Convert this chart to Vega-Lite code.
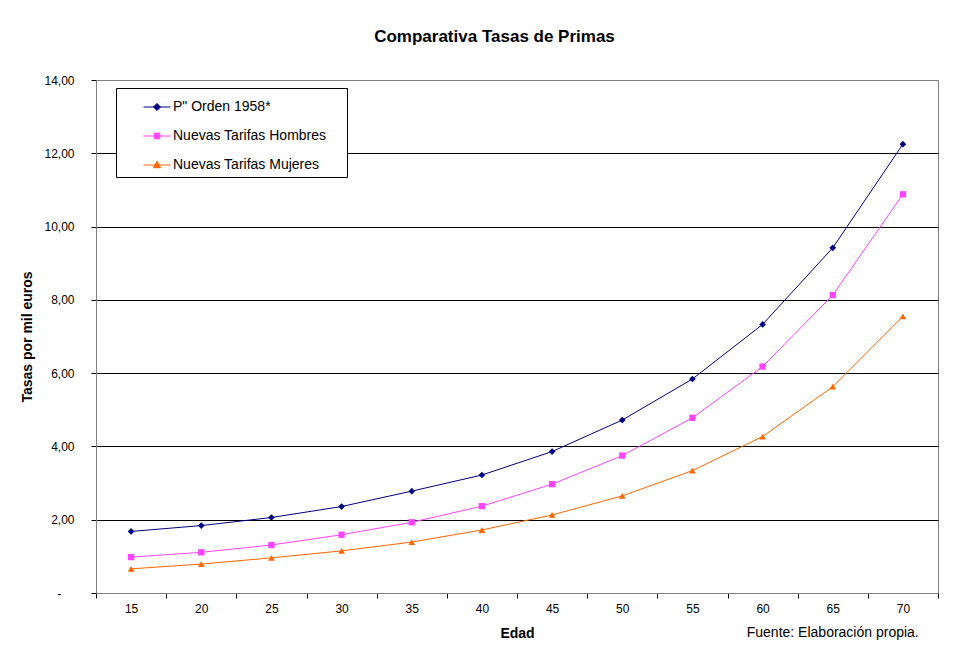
{
  "$schema": "https://vega.github.io/schema/vega-lite/v6.json",
  "width": 842,
  "height": 513,
  "autosize": {"type": "none"},
  "padding": {"left": 96, "top": 80, "right": 28, "bottom": 63},
  "background": "white",
  "title": {"text": "Comparativa Tasas de Primas", "fontSize": 17, "font": "Liberation Sans", "fontWeight": "bold", "anchor": "middle", "frame": "group", "dx": -22.5, "offset": 28, "color": "#000000"},
  "config": {
    "font": "Liberation Sans",
    "view": {"stroke": "#808080", "strokeWidth": 1},
    "axis": {"labelColor": "#000000", "titleColor": "#000000", "tickColor": "#000000", "domainColor": "#808080", "labelFont": "Liberation Sans", "titleFont": "Liberation Sans"}
  },
  "layer": [
    {
      "data": {"values": [
        {"edad": 15, "serie": "P\" Orden 1958*", "tasa": 1.68},
        {"edad": 20, "serie": "P\" Orden 1958*", "tasa": 1.84},
        {"edad": 25, "serie": "P\" Orden 1958*", "tasa": 2.06},
        {"edad": 30, "serie": "P\" Orden 1958*", "tasa": 2.36},
        {"edad": 35, "serie": "P\" Orden 1958*", "tasa": 2.78},
        {"edad": 40, "serie": "P\" Orden 1958*", "tasa": 3.22},
        {"edad": 45, "serie": "P\" Orden 1958*", "tasa": 3.86},
        {"edad": 50, "serie": "P\" Orden 1958*", "tasa": 4.72},
        {"edad": 55, "serie": "P\" Orden 1958*", "tasa": 5.84},
        {"edad": 60, "serie": "P\" Orden 1958*", "tasa": 7.33},
        {"edad": 65, "serie": "P\" Orden 1958*", "tasa": 9.42},
        {"edad": 70, "serie": "P\" Orden 1958*", "tasa": 12.25},
        {"edad": 15, "serie": "Nuevas Tarifas Hombres", "tasa": 0.98},
        {"edad": 20, "serie": "Nuevas Tarifas Hombres", "tasa": 1.11},
        {"edad": 25, "serie": "Nuevas Tarifas Hombres", "tasa": 1.31},
        {"edad": 30, "serie": "Nuevas Tarifas Hombres", "tasa": 1.59},
        {"edad": 35, "serie": "Nuevas Tarifas Hombres", "tasa": 1.93},
        {"edad": 40, "serie": "Nuevas Tarifas Hombres", "tasa": 2.37},
        {"edad": 45, "serie": "Nuevas Tarifas Hombres", "tasa": 2.97},
        {"edad": 50, "serie": "Nuevas Tarifas Hombres", "tasa": 3.75},
        {"edad": 55, "serie": "Nuevas Tarifas Hombres", "tasa": 4.78},
        {"edad": 60, "serie": "Nuevas Tarifas Hombres", "tasa": 6.18},
        {"edad": 65, "serie": "Nuevas Tarifas Hombres", "tasa": 8.13},
        {"edad": 70, "serie": "Nuevas Tarifas Hombres", "tasa": 10.88},
        {"edad": 15, "serie": "Nuevas Tarifas Mujeres", "tasa": 0.66},
        {"edad": 20, "serie": "Nuevas Tarifas Mujeres", "tasa": 0.79},
        {"edad": 25, "serie": "Nuevas Tarifas Mujeres", "tasa": 0.96},
        {"edad": 30, "serie": "Nuevas Tarifas Mujeres", "tasa": 1.15},
        {"edad": 35, "serie": "Nuevas Tarifas Mujeres", "tasa": 1.39},
        {"edad": 40, "serie": "Nuevas Tarifas Mujeres", "tasa": 1.72},
        {"edad": 45, "serie": "Nuevas Tarifas Mujeres", "tasa": 2.13},
        {"edad": 50, "serie": "Nuevas Tarifas Mujeres", "tasa": 2.65},
        {"edad": 55, "serie": "Nuevas Tarifas Mujeres", "tasa": 3.34},
        {"edad": 60, "serie": "Nuevas Tarifas Mujeres", "tasa": 4.27},
        {"edad": 65, "serie": "Nuevas Tarifas Mujeres", "tasa": 5.63},
        {"edad": 70, "serie": "Nuevas Tarifas Mujeres", "tasa": 7.55}
      ]},
      "encoding": {
        "x": {
          "field": "edad", "type": "ordinal",
          "scale": {"type": "band", "paddingInner": 0, "paddingOuter": 0},
          "axis": {"title": "Edad", "titleFontSize": 14, "titleFontWeight": "bold", "titleY": 40, "titleBaseline": "middle", "labelAngle": 0, "labelFontSize": 12, "labelPadding": 5, "tickSize": 5, "tickBand": "extent", "grid": false}
        },
        "y": {
          "field": "tasa", "type": "quantitative",
          "scale": {"domain": [0, 14], "nice": false},
          "axis": {
            "title": "Tasas por mil euros", "titleFontSize": 14, "titleFontWeight": "bold",
            "titleX": -69, "titleY": 256.5, "titleAngle": -90, "titleBaseline": "middle", "titleAlign": "center",
            "values": [0, 2, 4, 6, 8, 10, 12, 14],
            "labelExpr": "datum.value === 0 ? '-\u00a0\u00a0\u00a0\u00a0\u200b' : replace(format(datum.value, '.2f'), '.', ',')",
            "labelFontSize": 12, "labelPadding": 17, "tickSize": 5,
            "grid": true,
            "gridColor": {"condition": {"test": "datum.value === 0 || datum.value === 14", "value": "#808080"}, "value": "#000000"},
            "gridOpacity": 1, "gridWidth": 1
          }
        },
        "color": {
          "field": "serie", "type": "nominal",
          "scale": {"domain": ["P\" Orden 1958*", "Nuevas Tarifas Hombres", "Nuevas Tarifas Mujeres"], "range": ["#000080", "#FF44FF", "#FF6600"]},
          "legend": {
            "title": null, "orient": "none", "legendX": 20, "legendY": 8,
            "padding": 5, "symbolOffset": 22, "rowPadding": 8, "labelOffset": 2,
            "strokeColor": "#000000", "fillColor": "#FFFFFF",
            "symbolSize": 729, "symbolStrokeWidth": 1,
            "labelFontSize": 14, "labelFont": "Liberation Sans", "labelColor": "#000000", "labelLimit": 400,
            "labelExpr": "datum.label + '\u00a0\u00a0\u00a0\u00a0\u200b'",
            "encoding": {
              "symbols": {
                "shape": {"value": {"expr": "datum.index === 0 ? 'M-1,0H1M0,-0.26L0.26,0L0,0.26L-0.26,0Z' : datum.index === 1 ? 'M-1,0H1M-0.21,-0.21H0.21V0.21H-0.21Z' : 'M-1,0H1M0,-0.27L0.26,0.2L-0.26,0.2Z'"}},
                "fill": {"value": {"expr": "scale('color', datum.value)"}},
                "stroke": {"value": {"expr": "scale('color', datum.value)"}},
                "fillOpacity": {"value": 1},
                "strokeOpacity": {"value": 1},
                "strokeWidth": {"value": 1},
                "size": {"value": 729}
              }
            }
          }
        }
      },
      "layer": [
        {"mark": {"type": "line", "strokeWidth": 1}},
        {
          "transform": [{"filter": {"field": "serie", "equal": "P\" Orden 1958*"}}],
          "mark": {"type": "point", "filled": true, "opacity": 1, "size": 45, "shape": "diamond"}
        },
        {
          "transform": [{"filter": {"field": "serie", "equal": "Nuevas Tarifas Hombres"}}],
          "mark": {"type": "point", "filled": true, "opacity": 1, "size": 40, "shape": "square"}
        },
        {
          "transform": [{"filter": {"field": "serie", "equal": "Nuevas Tarifas Mujeres"}}],
          "mark": {"type": "point", "filled": true, "opacity": 1, "size": 45, "shape": "triangle-up"}
        }
      ]
    },
    {
      "data": {"values": [{"nota": "Fuente: Elaboración propia."}]},
      "mark": {"type": "text", "fontSize": 14, "font": "Liberation Sans", "align": "center", "baseline": "middle", "color": "#000000"},
      "encoding": {
        "x": {"datum": 65, "type": "ordinal"},
        "y": {"datum": -1.1, "type": "quantitative"},
        "text": {"field": "nota"}
      }
    }
  ]
}
